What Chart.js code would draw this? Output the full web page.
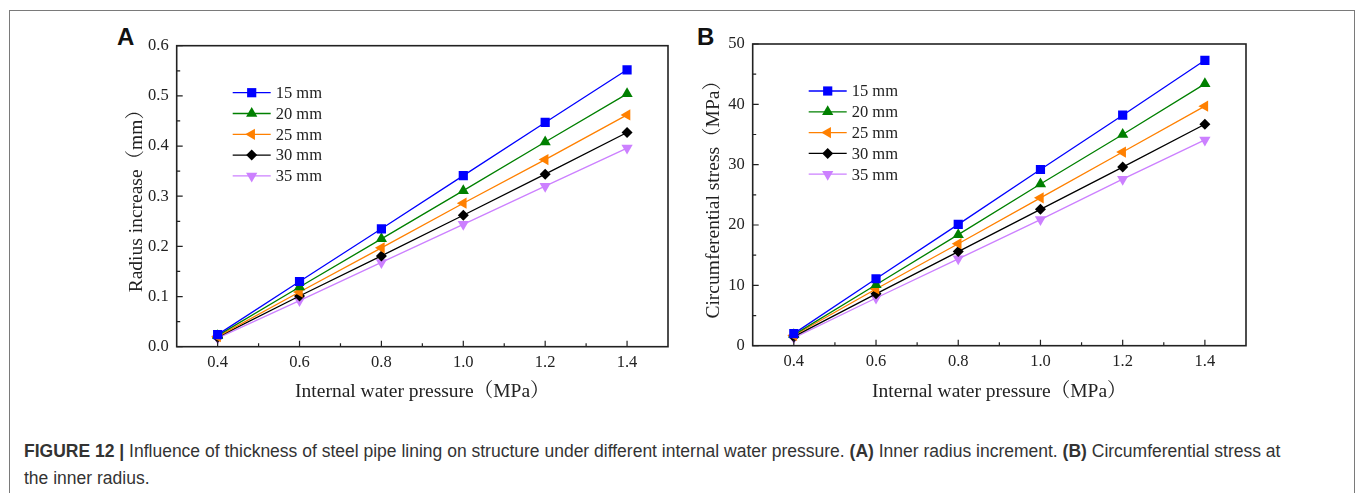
<!DOCTYPE html>
<html>
<head>
<meta charset="utf-8">
<script src="https://cdn.jsdelivr.net/npm/chart.js@4.4.1/dist/chart.umd.min.js"></script>
<style>
body{margin:0;background:#fff;width:1357px;height:493px;overflow:hidden;position:relative}
#frame{position:absolute;left:9px;top:10px;width:1344px;height:500px;border:1px solid #7a7a7a}
canvas{position:absolute;top:0}
#chartA{left:100px}
#chartB{left:680px}
.tag{position:absolute;top:24.7px;font:bold 24px/24px "Liberation Sans",Arial,sans-serif;color:#111}
#cap{position:absolute;left:24px;top:437.5px;width:1268px;font:17.5px/27px "Liberation Sans",Arial,sans-serif;color:#333}
</style>
</head>
<body>
<div id="frame"></div>
<div class="tag" style="left:117px">A</div>
<div class="tag" style="left:697px">B</div>
<canvas id="chartA" width="580" height="420"></canvas>
<canvas id="chartB" width="580" height="420"></canvas>
<div id="cap"><b>FIGURE 12 |</b> Influence of thickness of steel pipe lining on structure under different internal water pressure. <b>(A)</b> Inner radius increment. <b>(B)</b> Circumferential stress at the inner radius.</div>
<script>
// data
const pressure = [0.4, 0.6, 0.8, 1.0, 1.2, 1.4]
const thickness = ['15 mm', '20 mm', '25 mm', '30 mm', '35 mm']

// (A) radius increase, mm
const radius15 = [0.024, 0.130, 0.235, 0.341, 0.447, 0.552]
const radius20 = [0.022, 0.119, 0.215, 0.311, 0.408, 0.504]
const radius25 = [0.020, 0.109, 0.197, 0.286, 0.373, 0.462]
const radius30 = [0.019, 0.101, 0.181, 0.262, 0.344, 0.427]
const radius35 = [0.017, 0.092, 0.168, 0.244, 0.320, 0.396]

// (B) circumferential stress, MPa
const stress15 = [2.0, 11.1, 20.1, 29.2, 38.2, 47.3]
const stress20 = [1.8, 10.1, 18.4, 26.8, 35.0, 43.4]
const stress25 = [1.7, 9.4, 16.9, 24.5, 32.1, 39.7]
const stress30 = [1.5, 8.6, 15.6, 22.6, 29.6, 36.7]
const stress35 = [1.3, 7.9, 14.4, 20.9, 27.6, 34.1]

const xTicks = [0.4, 0.6, 0.8, 1.0, 1.2, 1.4]
const xMinor = [0.5, 0.7, 0.9, 1.1, 1.3]
const radiusTicks = [0, 0.1, 0.2, 0.3, 0.4, 0.5, 0.6]
const radiusMinor = [0.05, 0.15, 0.25, 0.35, 0.45, 0.55]
const stressTicks = [0, 10, 20, 30, 40, 50]
const stressMinor = [5, 15, 25, 35, 45]

// look of each series
const colors = ['#0000ff', '#008000', '#ff8000', '#000000', '#cc80ff']
const shapes = ['rect', 'triangle', 'triangle', 'rectRot', 'triangle']
const turns = [0, 0, -90, 0, 180]
const sizes = [6.5, 6.5, 6.5, 5.5, 6.5]

const serif = '"Liberation Serif", "Noto Serif CJK SC", "Noto Sans CJK SC", serif'

// frame box with inward ticks
const boxPlugin = {
    id: 'box',
    afterDatasetsDraw(chart, args, o) {
        const ctx = chart.ctx
        const a = chart.chartArea
        const x = chart.scales.x
        const y = chart.scales.y
        ctx.save()
        ctx.strokeStyle = '#222'
        ctx.lineWidth = 1.2
        ctx.beginPath()
        o.xMajor.forEach(v => { const p = x.getPixelForValue(v); ctx.moveTo(p, a.bottom); ctx.lineTo(p, a.bottom - 6) })
        o.xMinor.forEach(v => { const p = x.getPixelForValue(v); ctx.moveTo(p, a.bottom); ctx.lineTo(p, a.bottom - 3.5) })
        o.yMajor.forEach(v => { const p = y.getPixelForValue(v); ctx.moveTo(a.left, p); ctx.lineTo(a.left + 6, p) })
        o.yMinor.forEach(v => { const p = y.getPixelForValue(v); ctx.moveTo(a.left, p); ctx.lineTo(a.left + 3.5, p) })
        ctx.stroke()
        ctx.lineWidth = 1.6
        ctx.strokeRect(a.left, a.top, a.right - a.left, a.bottom - a.top)
        ctx.restore()
    }
}

// legend inside the plot: short line + marker + label
const legendPlugin = {
    id: 'innerLegend',
    afterDatasetsDraw(chart, args, o) {
        const ctx = chart.ctx
        const a = chart.chartArea
        ctx.save()
        chart.data.datasets.forEach((ds, i) => {
            const yy = a.top + o.top + i * o.gap
            const x0 = a.left + o.left
            ctx.strokeStyle = ds.borderColor
            ctx.fillStyle = ds.backgroundColor
            ctx.lineWidth = ds.borderWidth
            ctx.beginPath()
            ctx.moveTo(x0, yy)
            ctx.lineTo(x0 + 38, yy)
            ctx.stroke()
            Chart.helpers.drawPoint(ctx, {pointStyle: ds.pointStyle, rotation: ds.pointRotation, radius: ds.pointRadius, borderWidth: 0}, x0 + 19, yy)
            ctx.fillStyle = '#222'
            ctx.font = '16.5px ' + serif
            ctx.textBaseline = 'middle'
            ctx.fillText(ds.label, x0 + 43, yy + 1)
        })
        ctx.restore()
    }
}

function makeSets(series) {
    return series.map((vals, i) => ({
        label: thickness[i],
        data: pressure.map((p, j) => ({x: p, y: vals[j]})),
        borderColor: colors[i],
        backgroundColor: colors[i],
        borderWidth: 1.3,
        pointStyle: shapes[i],
        pointRotation: turns[i],
        pointRadius: sizes[i],
        pointBorderWidth: 0,
        tension: 0
    }))
}

function makeChart(id, series, yMax, yTicks, yMinor, yTitle, digits, pad) {
    return new Chart(document.getElementById(id).getContext('2d'), {
        type: 'line',
        data: {datasets: makeSets(series)},
        plugins: [boxPlugin, legendPlugin],
        options: {
            responsive: false,
            animation: false,
            devicePixelRatio: 1,
            layout: {padding: {top: pad.top, right: pad.right, bottom: 0, left: 0}},
            plugins: {
                legend: {display: false},
                tooltip: {enabled: false},
                box: {xMajor: xTicks, xMinor: xMinor, yMajor: yTicks, yMinor: yMinor},
                innerLegend: {left: 56, top: 47, gap: 20.8}
            },
            scales: {
                x: {
                    type: 'linear',
                    min: 0.3,
                    max: 1.5,
                    grid: {display: false, drawTicks: false},
                    border: {display: false},
                    afterBuildTicks: s => { s.ticks = xTicks.map(v => ({value: v})) },
                    afterFit: s => { s.height = 420 - pad.bottomAxis },
                    ticks: {padding: 6, color: '#222', font: {family: serif, size: 16.5}, callback: v => v.toFixed(1)},
                    title: {display: true, text: 'Internal water pressure（MPa）', color: '#222', font: {family: serif, size: 19.5}, padding: {top: 0, bottom: 16.6}}
                },
                y: {
                    min: 0,
                    max: yMax,
                    grid: {display: false, drawTicks: false},
                    border: {display: false},
                    afterBuildTicks: s => { s.ticks = yTicks.map(v => ({value: v})) },
                    afterFit: s => { s.width = pad.left },
                    ticks: {padding: 8, color: '#222', font: {family: serif, size: 16.5}, callback: v => v.toFixed(digits)},
                    title: {display: true, text: yTitle, color: '#222', font: {family: serif, size: 19.5}, padding: {top: pad.title, bottom: 0}}
                }
            }
        }
    })
}

makeChart('chartA', [radius15, radius20, radius25, radius30, radius35], 0.6, radiusTicks, radiusMinor,
    'Radius increase（mm）', 1, {top: 45.7, right: 12, left: 76.7, bottomAxis: 346.7, title: 25.3})
makeChart('chartB', [stress15, stress20, stress25, stress30, stress35], 50, stressTicks, stressMinor,
    'Circumferential stress（MPa）', 0, {top: 44, right: 14, left: 72.7, bottomAxis: 345.7, title: 22.3})
</script>
</body>
</html>
